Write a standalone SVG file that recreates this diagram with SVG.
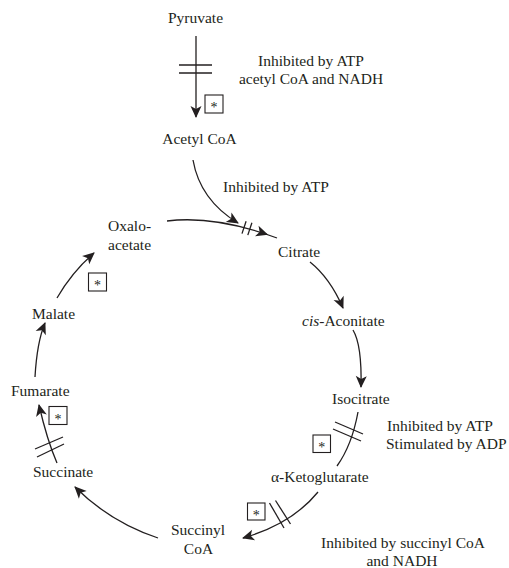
<svg xmlns="http://www.w3.org/2000/svg" width="509" height="568" viewBox="0 0 509 568">
  <style>
    text { font-family: "Liberation Serif", "Times New Roman", serif; font-size: 15.5px; fill: #231f20; }
    .mid { text-anchor: middle; }
    .star { font-size: 14px; text-anchor: middle; }
    .ln { fill: none; stroke: #231f20; stroke-width: 1.3; }
    .arr { marker-end: url(#head); }
    .box { fill: #ffffff; stroke: #231f20; stroke-width: 1.1; }
  </style>
  <defs>
    <marker id="head" markerUnits="userSpaceOnUse" markerWidth="14" markerHeight="12" refX="11" refY="5.5" orient="auto" overflow="visible">
      <path d="M0,0 L12,5.5 L0,11 L3,5.5 z" fill="#231f20"/>
    </marker>
  </defs>
  <rect width="509" height="568" fill="#ffffff"/>

  <!-- connectors -->
  <g id="connectors">
    <!-- pyruvate to acetyl CoA -->
    <path class="ln arr" d="M196,36 L196,117"/>
    <line class="ln" x1="179" y1="65" x2="212" y2="65"/>
    <line class="ln" x1="179" y1="73" x2="212" y2="73"/>
    <!-- acetyl CoA joins the citrate synthase step -->
    <path class="ln arr" d="M193,160 Q200,200 238,223"/>
    <!-- oxaloacetate to citrate -->
    <path class="ln" d="M167,221 Q215,215 277,238"/>
    <path class="ln arr" d="M262.5,232.9 L267.2,234.5"/>
    <line class="ln" x1="242" y1="233.6" x2="246.1" y2="221.2"/>
    <line class="ln" x1="247.8" y1="235.1" x2="251.9" y2="222.7"/>
    <!-- citrate to cis-aconitate -->
    <path class="ln arr" d="M310,262 Q330,278 343,308"/>
    <!-- cis-aconitate to isocitrate -->
    <path class="ln arr" d="M353,330 Q362,345 361,387"/>
    <!-- isocitrate to alpha-ketoglutarate -->
    <path class="ln" d="M358,412 Q352,445 337,466"/>
    <line class="ln" x1="335" y1="422" x2="363" y2="434"/>
    <line class="ln" x1="333" y1="429" x2="361" y2="441"/>
    <!-- alpha-ketoglutarate to succinyl CoA -->
    <path class="ln arr" d="M318,492 Q292,524 243,538"/>
    <line class="ln" x1="269.5" y1="503" x2="284" y2="528"/>
    <line class="ln" x1="275.5" y1="500.5" x2="290.5" y2="524"/>
    <!-- succinyl CoA to succinate -->
    <path class="ln arr" d="M158,538 Q110,522 75,487"/>
    <!-- succinate to fumarate -->
    <path class="ln arr" d="M57,463 Q47,440 39,405"/>
    <line class="ln" x1="35" y1="449" x2="63" y2="437"/>
    <line class="ln" x1="37" y1="457" x2="64" y2="444"/>
    <!-- fumarate to malate -->
    <path class="ln arr" d="M35,377 Q37,342 45,323"/>
    <!-- malate to oxaloacetate -->
    <path class="ln arr" d="M57,298 Q72,272 94,253"/>
  </g>

  <!-- nodes -->
  <g id="pyruvate"><text class="mid" x="195.5" y="23">Pyruvate</text></g>
  <g id="acetyl-coa"><text class="mid" x="199.5" y="144">Acetyl CoA</text></g>
  <g id="oxaloacetate">
    <text x="108" y="231">Oxalo-</text>
    <text x="108" y="250">acetate</text>
  </g>
  <g id="citrate"><text x="278" y="256.5">Citrate</text></g>
  <g id="cis-aconitate"><text x="302" y="325.5"><tspan font-style="italic">cis</tspan>-Aconitate</text></g>
  <g id="isocitrate"><text x="332" y="403.5">Isocitrate</text></g>
  <g id="alpha-ketoglutarate"><text x="271" y="482">α-Ketoglutarate</text></g>
  <g id="succinyl-coa">
    <text class="mid" x="198" y="535">Succinyl</text>
    <text class="mid" x="198.5" y="554">CoA</text>
  </g>
  <g id="succinate"><text x="33" y="477">Succinate</text></g>
  <g id="fumarate"><text x="11" y="395.5">Fumarate</text></g>
  <g id="malate"><text x="32" y="318.5">Malate</text></g>

  <!-- regulation notes -->
  <g id="note-pdh">
    <text class="mid" x="311" y="66">Inhibited by ATP</text>
    <text class="mid" x="311" y="84">acetyl CoA and NADH</text>
  </g>
  <g id="note-cs"><text x="223" y="192">Inhibited by ATP</text></g>
  <g id="note-idh">
    <text x="387" y="431">Inhibited by ATP</text>
    <text x="386" y="449">Stimulated by ADP</text>
  </g>
  <g id="note-kgdh">
    <text class="mid" x="403" y="548">Inhibited by succinyl CoA</text>
    <text class="mid" x="402" y="566">and NADH</text>
  </g>

  <!-- marked steps -->
  <g id="mark-pdh"><rect class="box" x="205" y="95" width="18" height="18"/><text class="star" x="214" y="112">*</text></g>
  <g id="mark-mdh"><rect class="box" x="88.5" y="273" width="18" height="18"/><text class="star" x="97.5" y="290">*</text></g>
  <g id="mark-sdh"><rect class="box" x="49" y="406.5" width="18" height="18"/><text class="star" x="58" y="423.5">*</text></g>
  <g id="mark-idh"><rect class="box" x="313" y="435" width="17.5" height="17.5"/><text class="star" x="321.7" y="452">*</text></g>
  <g id="mark-kgdh"><rect class="box" x="247.5" y="503" width="17.5" height="17"/><text class="star" x="256.2" y="519.5">*</text></g>
</svg>
